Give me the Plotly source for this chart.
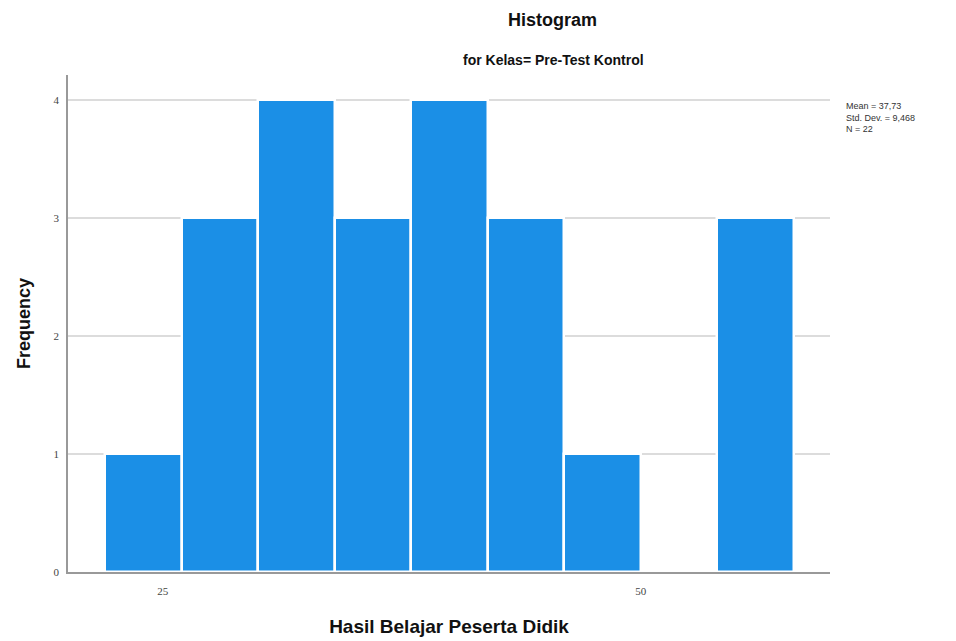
import plotly.graph_objects as go

bin_starts = [22, 26, 30, 34, 38, 42, 46, 50, 54]
bin_width = 4
frequencies = [1, 3, 4, 3, 4, 3, 1, 0, 3]
x_ticks = [25, 50]
y_ticks = [0, 1, 2, 3, 4]
stats_lines = ["Mean = 37,73", "Std. Dev. = 9,468", "N = 22"]

centers = [s + bin_width / 2 for s in bin_starts]

# page body has an 8px margin; compensate so the plot lands where the reference has it
OFF = 8
W, H = 956 - OFF, 641 - OFF
PL, PR, PT, PB = 68, 830, 75, 572  # plot area in window pixels
pw, ph = PR - PL, PB - PT

fig = go.Figure(go.Bar(
    x=centers, y=frequencies, width=[bin_width] * len(centers),
    marker=dict(color="#1b8fe6", line=dict(color="white", width=2.5)),
    hoverinfo="x+y",
))

fig.update_layout(
    width=W, height=H,
    paper_bgcolor="white", plot_bgcolor="white",
    margin=dict(l=PL - OFF, r=W + OFF - PR, t=PT - OFF, b=H + OFF - PB, autoexpand=False),
    showlegend=False,
    font=dict(family="Liberation Sans", color="#222"),
    bargap=0,
)
fig.update_xaxes(
    range=[20.05, 59.9], tickmode="array", tickvals=x_ticks,
    ticktext=[str(v) for v in x_ticks],
    tickfont=dict(family="Liberation Serif", size=11, color="#444"),
    showgrid=False, showline=True, linecolor="#999", linewidth=1.5,
    ticks="", zeroline=False, automargin=False, ticklabelstandoff=8,
    title=dict(text="<b>Hasil Belajar Peserta Didik</b>", font=dict(size=19, color="#111"), standoff=24),
)
fig.update_yaxes(
    range=[0, 4.21], tickmode="array", tickvals=y_ticks,
    tickfont=dict(family="Liberation Serif", size=11, color="#444"),
    showgrid=True, gridcolor="#dcdcdc", gridwidth=1.5,
    showline=True, linecolor="#999", linewidth=1.5,
    ticks="", zeroline=False, ticklabelstandoff=5, automargin=False,
    title=dict(text="<b>Frequency</b>", font=dict(size=18, color="#111"), standoff=18),
)

fig.add_annotation(
    text="<b>Histogram</b>", xref="paper", yref="paper",
    x=(552 - PL) / pw, y=1 + (PT - 20) / ph, showarrow=False,
    font=dict(size=18, color="#111"), xanchor="center", yanchor="middle",
)
fig.add_annotation(
    text="<b>for Kelas= Pre-Test Kontrol</b>", xref="paper", yref="paper",
    x=(553 - PL) / pw, y=1 + (PT - 60) / ph, showarrow=False,
    font=dict(size=14, color="#111"), xanchor="center", yanchor="middle",
)
fig.add_annotation(
    text="<br>".join(stats_lines), xref="paper", yref="paper",
    x=(844 - PL) / pw, y=1 - (99 - PT) / ph, showarrow=False, align="left",
    font=dict(size=9, color="#333"), xanchor="left", yanchor="top",
)

fig.write_html("out.html")
